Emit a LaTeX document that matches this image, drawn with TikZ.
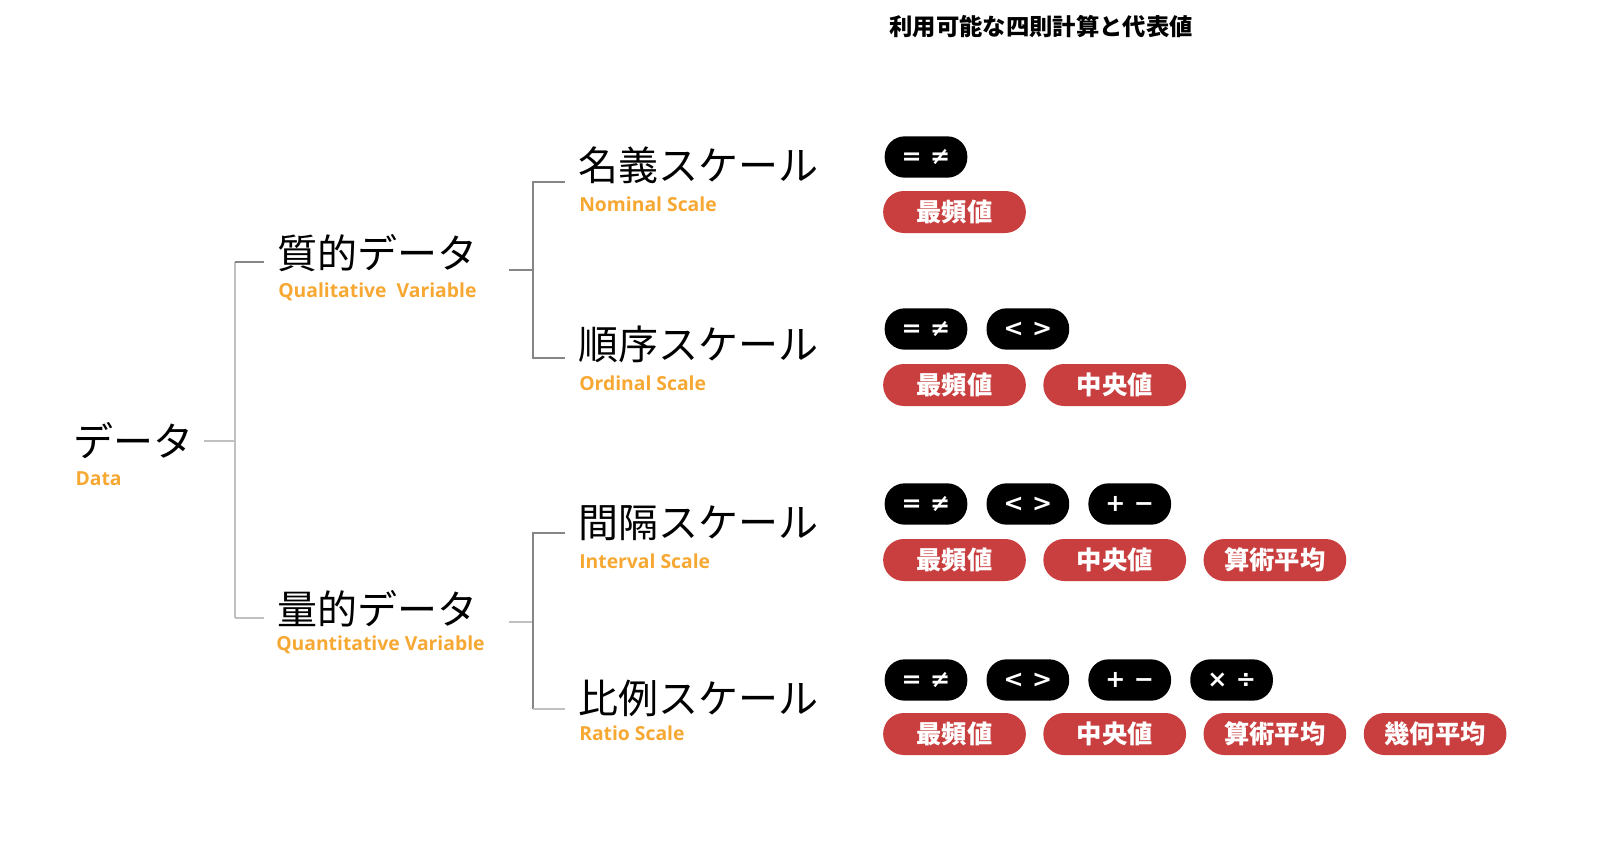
\documentclass[tikz,border=0pt]{standalone}
\usepackage{fontspec}
\newfontfamily\jpfont{Noto Sans CJK JP}
\newfontfamily\enfont{Open Sans}
\newfontfamily\symfont{DejaVu Sans}
\usetikzlibrary{positioning,calc}
\definecolor{scaleorange}{RGB}{246,168,51}
\definecolor{repred}{RGB}{201,62,62}
\definecolor{treelight}{RGB}{192,192,192}
\definecolor{treedark}{RGB}{134,134,134}

\begin{document}
\begin{tikzpicture}[
    x=0.75pt, y=-0.75pt,
    node distance=14pt,
    biglabel/.style={inner sep=0pt, outer xsep=10pt, anchor=west, font=\jpfont\fontsize{30}{30}\selectfont},
    eng_label/.style={inner sep=0pt, anchor=west, text=scaleorange, font=\enfont\bfseries\fontsize{14.5}{14.5}\selectfont},
    op_pill/.style={fill=black, text=white, rounded corners=15pt, minimum width=62pt, minimum height=31pt, inner sep=0pt, font=\symfont\bfseries\fontsize{18}{18}\selectfont},
    rep_pill/.style={fill=repred, text=white, rounded corners=15.5pt, minimum width=107pt, minimum height=31.5pt, inner sep=0pt, font=\jpfont\bfseries\fontsize{19}{19}\selectfont},
    tree_l/.style={draw=treelight, line width=1.5pt},
    tree_d/.style={draw=treedark, line width=1.5pt}
]
\useasboundingbox (0,0) rectangle (1600,843);

% Header
\node[font=\jpfont\bfseries\fontsize{17.5}{17.5}\selectfont] (head) at (1041,27) {利用可能な四則計算と代表値};

% Root
\node[biglabel, anchor=center, outer xsep=8pt] (data) at (133,441) {データ};
\node[eng_label] (data_en) at ($(data.west)+(13,38)$) {Data};

% First level
\node[biglabel] (qual) at (264,253) {質的データ};
\node[eng_label] (qual_en) at ($(qual.west)+(14,39)$) {Qualitative\ \ Variable};
\node[biglabel] (quant) at (264,609) {量的データ};
\node[eng_label] (quant_en) at ($(quant.west)+(12,36)$) {Quantitative Variable};

% Second level
\node[biglabel] (nom) at (565,165) {名義スケール};
\node[eng_label] (nom_en) at ($(nom.west)+(14,39)$) {Nominal Scale};
\node[biglabel] (ord) at (565,344) {順序スケール};
\node[eng_label] (ord_en) at ($(ord.west)+(14,39)$) {Ordinal Scale};
\node[biglabel] (int) at (565,523) {間隔スケール};
\node[eng_label] (int_en) at ($(int.west)+(14,38)$) {Interval Scale};
\node[biglabel] (rat) at (565,698) {比例スケール};
\node[eng_label] (rat_en) at ($(rat.west)+(14,35)$) {Ratio Scale};

% Tree lines
\coordinate (j1t) at (235,262);
\coordinate (j1b) at (235,618);
\coordinate (j2) at (533,270);
\coordinate (j3) at (533,622);
\draw[tree_l] (data.east) -- (data.east -| j1t);
\draw[tree_l] (j1t) -- (j1b);
\draw[tree_d] (j1t) -- (j1t -| qual.west);
\draw[tree_l] (j1b) -- (j1b -| quant.west);
\draw[tree_d, shorten <=14pt] (qual.east |- j2) -- (j2);
\draw[tree_l, shorten <=14pt] (quant.east |- j3) -- (j3);
\draw[tree_d] (nom.west |- 0,182) -| (533,358) -- (ord.west |- 0,358);
\draw[tree_d] (int.west |- 0,533) -| (533,709);
\draw[tree_l] (533,709) -- (rat.west |- 0,709);

% Nominal
\node[op_pill] (nom_eq) at (926,157) {= ≠};
\node[rep_pill] (nom_mode) at (954.5,212) {最頻値};

% Ordinal
\node[op_pill] (ord_eq) at (926,329) {= ≠};
\node[op_pill, right=of ord_eq] (ord_lg) {< >};
\node[rep_pill] (ord_mode) at (954.5,385) {最頻値};
\node[rep_pill, right=12.75pt of ord_mode] (ord_med) {中央値};

% Interval
\node[op_pill] (int_eq) at (926,504) {= ≠};
\node[op_pill, right=of int_eq] (int_lg) {< >};
\node[op_pill, right=of int_lg] (int_pm) {+ −};
\node[rep_pill] (int_mode) at (954.5,560) {最頻値};
\node[rep_pill, right=12.75pt of int_mode] (int_med) {中央値};
\node[rep_pill, right=12.75pt of int_med] (int_mean) {算術平均};

% Ratio
\node[op_pill] (rat_eq) at (926,680) {= ≠};
\node[op_pill, right=of rat_eq] (rat_lg) {< >};
\node[op_pill, right=of rat_lg] (rat_pm) {+ −};
\node[op_pill, right=of rat_pm] (rat_md) {× ÷};
\node[rep_pill] (rat_mode) at (954.5,734) {最頻値};
\node[rep_pill, right=12.75pt of rat_mode] (rat_med) {中央値};
\node[rep_pill, right=12.75pt of rat_med] (rat_mean) {算術平均};
\node[rep_pill, right=12.75pt of rat_mean] (rat_geo) {幾何平均};

\end{tikzpicture}
\end{document}
